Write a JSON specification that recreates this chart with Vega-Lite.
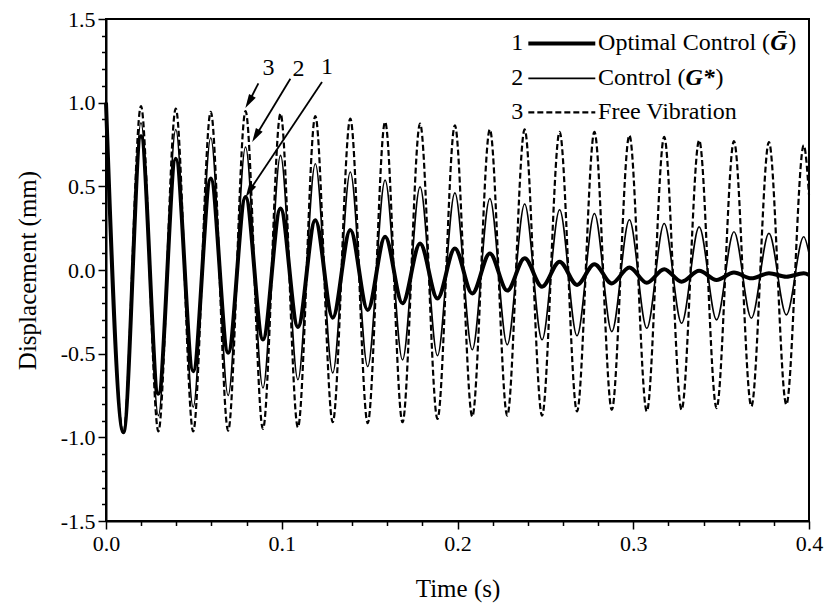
{
  "$schema": "https://vega.github.io/schema/vega-lite/v6.json",
  "width": 703,
  "height": 502,
  "autosize": {"type": "none"},
  "padding": {"left": 106, "top": 19, "right": 15, "bottom": 91},
  "background": "white",
  "config": {
    "view": {"stroke": "black", "strokeWidth": 2},
    "axis": {"grid": false, "domainColor": "black", "tickColor": "black", "labelColor": "black", "titleColor": "black", "labelFont": "Liberation Serif", "titleFont": "Liberation Serif", "titleFontWeight": "normal", "domainWidth": 2, "tickWidth": 1.5},
    "text": {"font": "Liberation Serif", "color": "black"}
  },
  "datasets": {
    "free": [
      {"t": 0, "d": 1.0}, {"t": 0.0099, "d": -0.975}, {"t": 0.0199, "d": 0.98}, {"t": 0.0298, "d": -0.965},
      {"t": 0.0397, "d": 0.965}, {"t": 0.0496, "d": -0.965}, {"t": 0.0596, "d": 0.945}, {"t": 0.0695, "d": -0.96},
      {"t": 0.0794, "d": 0.95}, {"t": 0.0893, "d": -0.95}, {"t": 0.0993, "d": 0.935}, {"t": 0.1092, "d": -0.94},
      {"t": 0.1191, "d": 0.92}, {"t": 0.129, "d": -0.91}, {"t": 0.139, "d": 0.905}, {"t": 0.1489, "d": -0.915},
      {"t": 0.1588, "d": 0.885}, {"t": 0.1687, "d": -0.91}, {"t": 0.1787, "d": 0.875}, {"t": 0.1886, "d": -0.89},
      {"t": 0.1985, "d": 0.865}, {"t": 0.2084, "d": -0.876}, {"t": 0.2184, "d": 0.84}, {"t": 0.2283, "d": -0.87},
      {"t": 0.2382, "d": 0.84}, {"t": 0.2481, "d": -0.87}, {"t": 0.2581, "d": 0.825}, {"t": 0.268, "d": -0.845},
      {"t": 0.2779, "d": 0.825}, {"t": 0.2878, "d": -0.835}, {"t": 0.2978, "d": 0.805}, {"t": 0.3077, "d": -0.845},
      {"t": 0.3176, "d": 0.795}, {"t": 0.3275, "d": -0.835}, {"t": 0.3375, "d": 0.775}, {"t": 0.3474, "d": -0.825},
      {"t": 0.3573, "d": 0.77}, {"t": 0.3672, "d": -0.815}, {"t": 0.3772, "d": 0.765}, {"t": 0.3871, "d": -0.805},
      {"t": 0.397, "d": 0.745}, {"t": 0.4, "d": 0.45}
    ],
    "control": [
      {"t": 0, "d": 1.0}, {"t": 0.0099, "d": -0.97}, {"t": 0.0199, "d": 0.88}, {"t": 0.0298, "d": -0.87},
      {"t": 0.0397, "d": 0.84}, {"t": 0.0496, "d": -0.82}, {"t": 0.0596, "d": 0.79}, {"t": 0.0695, "d": -0.75},
      {"t": 0.0794, "d": 0.735}, {"t": 0.0893, "d": -0.705}, {"t": 0.0993, "d": 0.685}, {"t": 0.1092, "d": -0.656},
      {"t": 0.1191, "d": 0.635}, {"t": 0.129, "d": -0.615}, {"t": 0.139, "d": 0.586}, {"t": 0.1489, "d": -0.577},
      {"t": 0.1588, "d": 0.537}, {"t": 0.1687, "d": -0.537}, {"t": 0.1787, "d": 0.497}, {"t": 0.1886, "d": -0.512},
      {"t": 0.1985, "d": 0.461}, {"t": 0.2084, "d": -0.477}, {"t": 0.2184, "d": 0.427}, {"t": 0.2283, "d": -0.447},
      {"t": 0.2382, "d": 0.394}, {"t": 0.2481, "d": -0.417}, {"t": 0.2581, "d": 0.36}, {"t": 0.268, "d": -0.393},
      {"t": 0.2779, "d": 0.338}, {"t": 0.2878, "d": -0.368}, {"t": 0.2978, "d": 0.3}, {"t": 0.3077, "d": -0.348},
      {"t": 0.3176, "d": 0.278}, {"t": 0.3275, "d": -0.318}, {"t": 0.3375, "d": 0.258}, {"t": 0.3474, "d": -0.298},
      {"t": 0.3573, "d": 0.229}, {"t": 0.3672, "d": -0.288}, {"t": 0.3772, "d": 0.219}, {"t": 0.3871, "d": -0.268},
      {"t": 0.397, "d": 0.199}, {"t": 0.4, "d": 0.1}
    ],
    "optimal": [
      {"t": 0, "d": 1.0}, {"t": 0.0099, "d": -0.97}, {"t": 0.0199, "d": 0.8}, {"t": 0.0298, "d": -0.74},
      {"t": 0.0397, "d": 0.665}, {"t": 0.0496, "d": -0.605}, {"t": 0.0596, "d": 0.547}, {"t": 0.0695, "d": -0.495},
      {"t": 0.0794, "d": 0.437}, {"t": 0.0893, "d": -0.415}, {"t": 0.0993, "d": 0.368}, {"t": 0.1092, "d": -0.34},
      {"t": 0.1191, "d": 0.298}, {"t": 0.129, "d": -0.285}, {"t": 0.139, "d": 0.239}, {"t": 0.1489, "d": -0.239},
      {"t": 0.1588, "d": 0.199}, {"t": 0.1687, "d": -0.199}, {"t": 0.1787, "d": 0.159}, {"t": 0.1886, "d": -0.17},
      {"t": 0.1985, "d": 0.129}, {"t": 0.2084, "d": -0.14}, {"t": 0.2184, "d": 0.099}, {"t": 0.2283, "d": -0.123},
      {"t": 0.2382, "d": 0.07}, {"t": 0.2481, "d": -0.1}, {"t": 0.2581, "d": 0.05}, {"t": 0.268, "d": -0.089},
      {"t": 0.2779, "d": 0.035}, {"t": 0.2878, "d": -0.08}, {"t": 0.2978, "d": 0.015}, {"t": 0.3077, "d": -0.076},
      {"t": 0.3176, "d": 0.005}, {"t": 0.3275, "d": -0.07}, {"t": 0.3375, "d": -0.005}, {"t": 0.3474, "d": -0.06},
      {"t": 0.3573, "d": -0.015}, {"t": 0.3672, "d": -0.05}, {"t": 0.3772, "d": -0.02}, {"t": 0.3871, "d": -0.04},
      {"t": 0.397, "d": -0.02}, {"t": 0.4, "d": -0.03}
    ],
    "arrows": [
      {"label": "3", "x0": 0.0867, "y0": 1.115, "hx": 0.0813, "hy": 1.004, "lx": 0.0924, "ly": 1.205},
      {"label": "2", "x0": 0.1049, "y0": 1.143, "hx": 0.0852, "hy": 0.801, "lx": 0.1096, "ly": 1.2},
      {"label": "1", "x0": 0.1229, "y0": 1.123, "hx": 0.0815, "hy": 0.472, "lx": 0.1257, "ly": 1.212}
    ],
    "key": [
      {"n": "1", "a": "Optimal Control (", "g": "Ḡ", "c": ")", "y": 1.354},
      {"n": "2", "a": "Control (", "g": "G*", "c": ")", "y": 1.145},
      {"n": "3", "a": "Free Vibration", "g": "", "c": "", "y": 0.942}
    ]
  },
  "layer": [
    {
      "data": {"name": "free"},
      "mark": {"type": "line", "interpolate": "monotone", "color": "black", "strokeWidth": 2.2, "strokeDash": [6, 3]},
      "encoding": {
        "x": {"field": "t", "type": "quantitative", "scale": {"domain": [0, 0.4], "nice": false, "zero": false},
          "axis": {"orient": "bottom", "title": "Time (s)", "values": [0, 0.1, 0.2, 0.3, 0.4], "format": ".1f", "tickSize": 8, "labelFontSize": 22, "labelPadding": 4, "labelFlush": false, "titleFontSize": 25, "titlePadding": 22}},
        "y": {"field": "d", "type": "quantitative", "scale": {"domain": [-1.5, 1.5], "nice": false, "zero": false},
          "axis": {"orient": "left", "title": "Displacement (mm)", "values": [-1.5, -1, -0.5, 0, 0.5, 1, 1.5], "labelExpr": "datum.value < 0 ? '-' + format(-datum.value, '.1f') : format(datum.value, '.1f')", "tickSize": 8, "labelFontSize": 22, "labelPadding": 3, "labelFlush": false, "titleFontSize": 25, "titlePadding": 20}}
      }
    },
    {
      "data": {"name": "control"},
      "mark": {"type": "line", "interpolate": "monotone", "color": "black", "strokeWidth": 1.6},
      "encoding": {
        "x": {"field": "t", "type": "quantitative", "scale": {"domain": [0, 0.4], "nice": false, "zero": false},
          "axis": {"orient": "bottom", "title": null, "labels": false, "domain": false, "tickSize": 4.5, "values": [0.02, 0.04, 0.06, 0.08, 0.12, 0.14, 0.16, 0.18, 0.22, 0.24, 0.26, 0.28, 0.32, 0.34, 0.36, 0.38]}},
        "y": {"field": "d", "type": "quantitative", "scale": {"domain": [-1.5, 1.5], "nice": false, "zero": false},
          "axis": {"orient": "left", "title": null, "labels": false, "domain": false, "tickSize": 4.5, "values": [-1.4, -1.3, -1.2, -1.1, -0.9, -0.8, -0.7, -0.6, -0.4, -0.3, -0.2, -0.1, 0.1, 0.2, 0.3, 0.4, 0.6, 0.7, 0.8, 0.9, 1.1, 1.2, 1.3, 1.4]}}
      }
    },
    {
      "data": {"name": "optimal"},
      "mark": {"type": "line", "interpolate": "monotone", "color": "black", "strokeWidth": 4},
      "encoding": {
        "x": {"field": "t", "type": "quantitative", "scale": {"domain": [0, 0.4]}, "axis": null},
        "y": {"field": "d", "type": "quantitative", "scale": {"domain": [-1.5, 1.5]}, "axis": null}
      }
    },
    {
      "data": {"name": "arrows"},
      "mark": {"type": "rule", "color": "black", "strokeWidth": 1.8},
      "encoding": {
        "x": {"field": "x0", "type": "quantitative", "axis": null},
        "y": {"field": "y0", "type": "quantitative", "axis": null},
        "x2": {"field": "hx"},
        "y2": {"field": "hy"}
      }
    },
    {
      "data": {"name": "arrows"},
      "mark": {"type": "point", "shape": "M0,-1L-0.55,1L0.55,1Z", "filled": true, "color": "black", "opacity": 1, "size": 200, "angle": 210},
      "encoding": {
        "x": {"field": "hx", "type": "quantitative", "axis": null},
        "y": {"field": "hy", "type": "quantitative", "axis": null}
      }
    },
    {
      "data": {"name": "arrows"},
      "mark": {"type": "text", "fontSize": 24, "baseline": "middle", "align": "center"},
      "encoding": {
        "x": {"field": "lx", "type": "quantitative", "axis": null},
        "y": {"field": "ly", "type": "quantitative", "axis": null},
        "text": {"field": "label"}
      }
    },
    {
      "data": {"name": "key"},
      "transform": [{"filter": "datum.n == '1'"}],
      "mark": {"type": "rule", "color": "black", "strokeWidth": 4},
      "encoding": {
        "x": {"datum": 0.2403, "type": "quantitative", "axis": null},
        "x2": {"datum": 0.2784},
        "y": {"field": "y", "type": "quantitative", "axis": null}
      }
    },
    {
      "data": {"name": "key"},
      "transform": [{"filter": "datum.n == '2'"}],
      "mark": {"type": "rule", "color": "black", "strokeWidth": 1.6},
      "encoding": {
        "x": {"datum": 0.2403, "type": "quantitative", "axis": null},
        "x2": {"datum": 0.2784},
        "y": {"field": "y", "type": "quantitative", "axis": null}
      }
    },
    {
      "data": {"name": "key"},
      "transform": [{"filter": "datum.n == '3'"}],
      "mark": {"type": "rule", "color": "black", "strokeWidth": 2.2, "strokeDash": [6, 3]},
      "encoding": {
        "x": {"datum": 0.2403, "type": "quantitative", "axis": null},
        "x2": {"datum": 0.2784},
        "y": {"field": "y", "type": "quantitative", "axis": null}
      }
    },
    {
      "data": {"name": "key"},
      "mark": {"type": "text", "fontSize": 24, "baseline": "middle", "align": "right"},
      "encoding": {
        "x": {"datum": 0.2374, "type": "quantitative", "axis": null},
        "y": {"field": "y", "type": "quantitative", "axis": null},
        "text": {"field": "n"}
      }
    },
    {
      "data": {"name": "key"},
      "mark": {"type": "text", "fontSize": 24, "baseline": "middle", "align": "left"},
      "encoding": {
        "x": {"datum": 0.2800, "type": "quantitative", "axis": null},
        "y": {"field": "y", "type": "quantitative", "axis": null},
        "text": {"field": "a"}
      }
    },
    {
      "data": {"name": "key"},
      "transform": [{"filter": "datum.n == '1'"}],
      "mark": {"type": "text", "fontSize": 24, "baseline": "middle", "align": "left", "fontStyle": "italic", "fontWeight": "bold"},
      "encoding": {
        "x": {"datum": 0.3779, "type": "quantitative", "axis": null},
        "y": {"field": "y", "type": "quantitative", "axis": null},
        "text": {"field": "g"}
      }
    },
    {
      "data": {"name": "key"},
      "transform": [{"filter": "datum.n == '1'"}],
      "mark": {"type": "text", "fontSize": 24, "baseline": "middle", "align": "left"},
      "encoding": {
        "x": {"datum": 0.3882, "type": "quantitative", "axis": null},
        "y": {"field": "y", "type": "quantitative", "axis": null},
        "text": {"field": "c"}
      }
    },
    {
      "data": {"name": "key"},
      "transform": [{"filter": "datum.n == '2'"}],
      "mark": {"type": "text", "fontSize": 24, "baseline": "middle", "align": "left", "fontStyle": "italic", "fontWeight": "bold"},
      "encoding": {
        "x": {"datum": 0.3297, "type": "quantitative", "axis": null},
        "y": {"field": "y", "type": "quantitative", "axis": null},
        "text": {"field": "g"}
      }
    },
    {
      "data": {"name": "key"},
      "transform": [{"filter": "datum.n == '2'"}],
      "mark": {"type": "text", "fontSize": 24, "baseline": "middle", "align": "left"},
      "encoding": {
        "x": {"datum": 0.3468, "type": "quantitative", "axis": null},
        "y": {"field": "y", "type": "quantitative", "axis": null},
        "text": {"field": "c"}
      }
    }
  ],
  "resolve": {"axis": {"x": "independent", "y": "independent"}}
}
